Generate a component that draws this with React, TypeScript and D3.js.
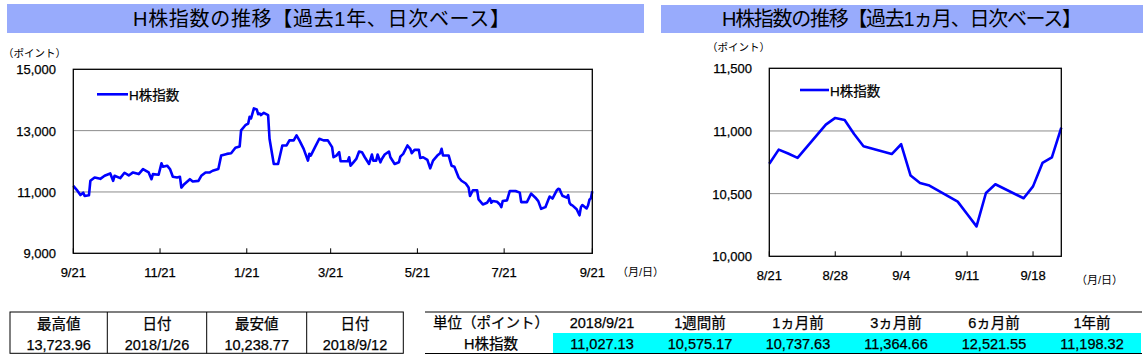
import React from 'react';
import * as d3 from 'd3';

// ---------- DATA ----------
const yearDates = [
  '2017-09-21','2017-09-24','2017-09-26','2017-09-28','2017-09-29','2017-10-02','2017-10-03','2017-10-06','2017-10-10','2017-10-13',
  '2017-10-17','2017-10-19','2017-10-20','2017-10-24','2017-10-27','2017-10-30','2017-11-02','2017-11-06','2017-11-09','2017-11-13',
  '2017-11-15','2017-11-16','2017-11-20','2017-11-22','2017-11-23','2017-11-26','2017-11-28','2017-11-30','2017-12-03','2017-12-05',
  '2017-12-06','2017-12-08','2017-12-12','2017-12-14','2017-12-18','2017-12-20','2017-12-23','2017-12-26','2017-12-28','2018-01-01',
  '2018-01-03','2018-01-07','2018-01-10','2018-01-13','2018-01-16','2018-01-17','2018-01-20','2018-01-22','2018-01-23','2018-01-24',
  '2018-01-26','2018-01-28','2018-01-29','2018-01-30','2018-01-31','2018-02-02','2018-02-05','2018-02-06','2018-02-07','2018-02-09',
  '2018-02-12','2018-02-15','2018-02-18','2018-02-20','2018-02-23','2018-02-25','2018-02-27','2018-03-02','2018-03-05','2018-03-06',
  '2018-03-07','2018-03-10','2018-03-13','2018-03-16','2018-03-19','2018-03-22','2018-03-23','2018-03-25','2018-03-27','2018-03-28',
  '2018-04-02','2018-04-03','2018-04-04','2018-04-06','2018-04-08','2018-04-10','2018-04-12','2018-04-14','2018-04-17','2018-04-19',
  '2018-04-20','2018-04-22','2018-04-23','2018-04-25','2018-04-26','2018-04-28','2018-05-01','2018-05-02','2018-05-05','2018-05-08',
  '2018-05-09','2018-05-11','2018-05-14','2018-05-16','2018-05-17','2018-05-19','2018-05-22','2018-05-23','2018-05-25','2018-05-28',
  '2018-05-30','2018-06-01','2018-06-04','2018-06-06','2018-06-07','2018-06-08','2018-06-12','2018-06-14','2018-06-16','2018-06-19',
  '2018-06-21','2018-06-24','2018-06-26','2018-06-27','2018-06-29','2018-07-02','2018-07-03','2018-07-06','2018-07-09','2018-07-11',
  '2018-07-12','2018-07-13','2018-07-16','2018-07-18','2018-07-19','2018-07-20','2018-07-23','2018-07-25','2018-07-29','2018-08-01',
  '2018-08-02','2018-08-06','2018-08-09','2018-08-12','2018-08-14','2018-08-16','2018-08-19',
];
const yearValues = [
  11198,11033,10901,10978,10868,10890,11363,11472,11428,11527,
  11604,11363,11527,11450,11626,11538,11637,11582,11747,11637,
  11417,11582,11560,11934,11824,11857,11747,11494,11472,11494,
  11143,11253,11417,11340,11363,11527,11637,11637,11692,11747,
  12187,12242,12264,12440,12483,13011,13176,13231,13451,13396,
  13724,13692,13538,13560,13506,13582,13506,12736,12461,11912,
  11912,12516,12516,12681,12681,12846,12681,12407,12022,12242,
  12187,12461,12736,12681,12681,12461,12132,12187,12297,12000,
  12000,12132,11857,11967,12077,12319,12297,12132,11912,12220,
  12022,12022,12220,11967,12077,12220,12319,12132,11912,11967,
  12154,12242,12516,12407,12264,12374,12374,12110,12132,12044,
  11769,12022,12187,12264,12407,12187,12187,11857,11824,11472,
  11365,11275,11143,10868,11055,11055,10758,10593,10648,10791,
  10648,10703,10681,10593,10505,10703,10725,11033,11033,10978,
  10670,10670,10945,10813,10703,10450,10505,
];
const monthDates = [
  '2018-08-21','2018-08-22','2018-08-23','2018-08-24','2018-08-27','2018-08-28','2018-08-29','2018-08-30','2018-08-31',
  '2018-09-03','2018-09-04','2018-09-05','2018-09-06','2018-09-07','2018-09-10','2018-09-11','2018-09-12','2018-09-13',
  '2018-09-14','2018-09-17','2018-09-18','2018-09-19','2018-09-20','2018-09-21',
];
const monthValues = [
  10738,10851,10820,10785,11051,11104,11088,10976,10878,
  10816,10894,10644,10585,10564,10436,10338,10239,10505,
  10575,10463,10558,10745,10790,11027,
];
const yearYTicks = [9000, 11000, 13000, 15000];
const yearGrid = [11000, 13000];
const yearXTicks = ['2017-09-21','2017-11-21','2018-01-21','2018-03-21','2018-05-21','2018-07-21','2018-09-21'];
const monthYTicks = [10000, 10500, 11000, 11500];
const monthGrid = [10500, 11000];
const monthXTicks = ['2018-08-21','2018-08-28','2018-09-04','2018-09-11','2018-09-18'];

const titleYear = 'H株指数の推移【過去1年、日次ベース】';
const titleMonth = 'H株指数の推移【過去1ヵ月、日次ベース】';
const seriesName = 'H株指数';
const yUnit = '（ポイント）';
const xUnit = '（月/日）';

const extremeHeaders = ['最高値', '日付', '最安値', '日付'];
const extremeValues = ['13,723.96', '2018/1/26', '10,238.77', '2018/9/12'];
const summaryHeaders = ['単位（ポイント）', '2018/9/21', '1週間前', '1ヵ月前', '3ヵ月前', '6ヵ月前', '1年前'];
const summaryRow = ['H株指数', '11,027.13', '10,575.17', '10,737.63', '11,364.66', '12,521.55', '11,198.32'];

// ---------- STYLE ----------
const FONT = "'Liberation Sans', 'Noto Sans CJK JP', sans-serif";
const BLUE = '#0000ff';
const BAR = '#98abfc';
const GRID = '#8c8c8c';
const HEAVY = { stroke: '#000', strokeWidth: 0.25 };

const parse = d3.timeParse('%Y-%m-%d');
const md = (d: Date) => `${d.getMonth() + 1}/${d.getDate()}`;
const fmt = d3.format(',');

type Pt = { date: Date; value: number };

function Chart(props: {
  data: Pt[]; x: d3.ScaleTime<number, number>; y: d3.ScaleLinear<number, number>;
  yTicks: number[]; grid: number[]; xTicks: Date[];
  left: number; right: number; top: number; bottom: number;
  yLabelX: number; xLabelY: number; unitX: number; unitY: number; xUnitX: number; xUnitY: number;
  legX: number; legY: number; legLen: number;
}) {
  const { data, x, y, left, right, top, bottom } = props;
  const line = d3.line<Pt>().x(d => x(d.date)).y(d => y(d.value));
  return (
    <g>
      {props.grid.map(v => (
        <line key={v} x1={left} x2={right} y1={y(v)} y2={y(v)} stroke={GRID} strokeWidth={1} />
      ))}
      {props.xTicks.map((t, i) => (
        <line key={i} x1={x(t)} x2={x(t)} y1={bottom} y2={bottom - 5} stroke="#000" strokeWidth={1} />
      ))}
      <path d={line(data) || ''} fill="none" stroke={BLUE} strokeWidth={2.6} strokeLinejoin="round" />
      <rect x={left} y={top} width={right - left} height={bottom - top} fill="none" stroke="#000" strokeWidth={1.3} />
      {props.yTicks.map(v => (
        <text key={v} x={props.yLabelX} y={y(v) + 5} textAnchor="end" fontSize={13} fontFamily={FONT} fill="#000" {...HEAVY}>{fmt(v)}</text>
      ))}
      {props.xTicks.map((t, i) => (
        <text key={i} x={x(t)} y={props.xLabelY} textAnchor="middle" fontSize={13} fontFamily={FONT} fill="#000" {...HEAVY}>{md(t)}</text>
      ))}
      <text x={props.unitX} y={props.unitY} fontSize={10.5} fontFamily={FONT} fill="#000">{yUnit}</text>
      <text x={props.xUnitX} y={props.xUnitY} fontSize={11} fontFamily={FONT} fill="#000">{xUnit}</text>
      <line x1={props.legX} x2={props.legX + props.legLen} y1={props.legY} y2={props.legY} stroke={BLUE} strokeWidth={2.6} />
      <text x={props.legX + props.legLen + 1} y={props.legY + 5.5} fontSize={13.5} fontFamily={FONT} fill="#000" {...HEAVY}>{seriesName}</text>
    </g>
  );
}

export default function App() {
  const yearData: Pt[] = [
    ...yearDates.map((d, i) => ({ date: parse(d)!, value: yearValues[i] })),
    ...monthDates.map((d, i) => ({ date: parse(d)!, value: monthValues[i] })),
  ];
  const monthData: Pt[] = monthDates.map((d, i) => ({ date: parse(d)!, value: monthValues[i] }));

  const xL = d3.scaleTime().domain([parse(yearXTicks[0])!, parse(yearXTicks[yearXTicks.length - 1])!]).range([73.3, 592.3]);
  const yL = d3.scaleLinear().domain([9000, 15000]).range([253.3, 69.3]);
  const xR = d3.scaleTime().domain([parse(monthDates[0])!, parse(monthDates[monthDates.length - 1])!]).range([769.3, 1061.3]);
  const yR = d3.scaleLinear().domain([10000, 11500]).range([256.3, 68.3]);

  const sumX0 = 425, sumLab = 553, sumX1 = 1141;
  const colW = (sumX1 - sumLab) / (summaryHeaders.length - 1);
  const sumCenters = summaryHeaders.map((_, i) => (i === 0 ? (sumX0 + sumLab) / 2 + 2 : sumLab + colW * (i - 0.5)));

  const extCols = [10, 107.3, 206.7, 306.7, 403.3];

  return (
    <svg width={1148} height={358} style={{ position: 'absolute', left: 0, top: 0, background: '#fff' }}>
      <rect x={0} y={0} width={1148} height={358} fill="#fff" />
      {/* title bars */}
      <rect x={7} y={4} width={637} height={29} fill={BAR} />
      <rect x={661} y={5} width={482} height={28} fill={BAR} />
      <text x={133} y={25.5} fontSize={20} fontFamily={FONT} textLength={377} lengthAdjust="spacing" fill="#000">{titleYear}</text>
      <text x={722} y={25.5} fontSize={20} fontFamily={FONT} textLength={360} lengthAdjust="spacing" fill="#000">{titleMonth}</text>

      <Chart data={yearData} x={xL} y={yL} yTicks={yearYTicks} grid={yearGrid} xTicks={yearXTicks.map(d => parse(d)!)}
        left={73.3} right={592.3} top={69.3} bottom={253.3}
        yLabelX={56} xLabelY={277} unitX={3} unitY={57} xUnitX={617} xUnitY={276}
        legX={97} legY={94.3} legLen={31} />
      <Chart data={monthData} x={xR} y={yR} yTicks={monthYTicks} grid={monthGrid} xTicks={monthXTicks.map(d => parse(d)!)}
        left={769.3} right={1061.3} top={68.3} bottom={256.3}
        yLabelX={752} xLabelY={280} unitX={707} unitY={51} xUnitX={1076} xUnitY={284}
        legX={800} legY={90} legLen={29} />

      {/* extremes table */}
      <rect x={extCols[0]} y={312} width={extCols[4] - extCols[0]} height={41.3} fill="none" stroke="#000" strokeWidth={1} />
      {extCols.slice(1, 4).map((cx, i) => (
        <line key={i} x1={cx} x2={cx} y1={312} y2={353.3} stroke="#000" strokeWidth={1} />
      ))}
      {extremeHeaders.map((h, i) => (
        <text key={'h' + i} x={(extCols[i] + extCols[i + 1]) / 2} y={329} textAnchor="middle" fontSize={14.5} fontFamily={FONT} fill="#000" {...HEAVY}>{h}</text>
      ))}
      {extremeValues.map((v, i) => (
        <text key={'v' + i} x={(extCols[i] + extCols[i + 1]) / 2} y={350} textAnchor="middle" fontSize={14.5} fontFamily={FONT} fill="#000" {...HEAVY}>{v}</text>
      ))}

      {/* summary table */}
      <rect x={sumLab} y={333} width={sumX1 - sumLab} height={20} fill="#00ffff" />
      <line x1={sumX0} x2={sumX1 + 1} y1={312} y2={312} stroke="#000" strokeWidth={1} />
      <line x1={sumX0} x2={sumX1 + 1} y1={353.5} y2={353.5} stroke="#000" strokeWidth={1} />
      {summaryHeaders.map((h, i) => (
        <text key={'sh' + i} x={sumCenters[i]} y={328} textAnchor="middle" fontSize={14.5} fontFamily={FONT} fill="#000" {...HEAVY}>{h}</text>
      ))}
      {summaryRow.map((v, i) => (
        <text key={'sv' + i} x={sumCenters[i]} y={349} textAnchor="middle" fontSize={14.5} fontFamily={FONT} fill="#000" {...HEAVY}>{v}</text>
      ))}
    </svg>
  );
}
